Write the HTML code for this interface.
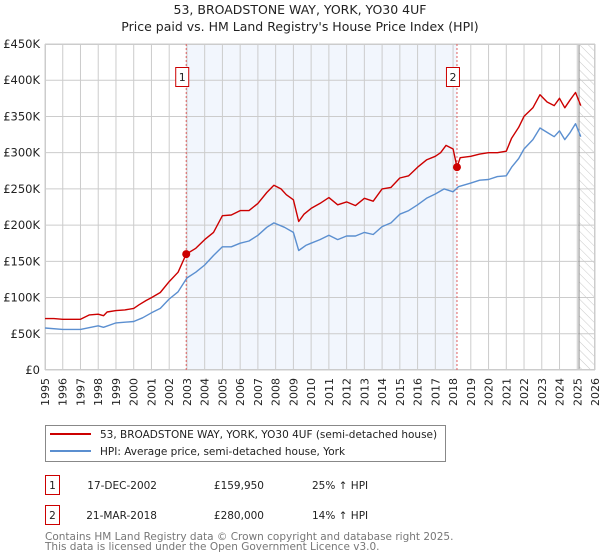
<!DOCTYPE html>
<html><head><meta charset="utf-8"><style>
body{margin:0;background:#fff;font-family:"DejaVu Sans","Liberation Sans",sans-serif;}
#wrap{position:relative;width:600px;height:560px;overflow:hidden;}
</style></head><body>
<div id="wrap">
<svg id="chart" width="600" height="560" xmlns="http://www.w3.org/2000/svg" font-family="DejaVu Sans, Liberation Sans, sans-serif">
<defs>
<pattern id="hatch" width="6" height="6" patternUnits="userSpaceOnUse" patternTransform="rotate(-45)">
<line x1="0" y1="0" x2="0" y2="6" stroke="#bbb" stroke-width="0.8"/>
</pattern>
<clipPath id="plotclip"><rect x="45" y="44" width="550" height="326"/></clipPath>
</defs>
<text x="300" y="14" text-anchor="middle" font-size="12.5" fill="#222">53, BROADSTONE WAY, YORK, YO30 4UF</text>
<text x="300" y="31" text-anchor="middle" font-size="12.5" fill="#222">Price paid vs. HM Land Registry's House Price Index (HPI)</text>
<g id="plot"></g>
<g>
<rect x="45.5" y="425.5" width="400" height="36" fill="#fff" stroke="#888"/>
<line x1="50" y1="434" x2="91" y2="434" stroke="#cc0000" stroke-width="2"/>
<text x="100" y="438" font-size="10.5" fill="#222">53, BROADSTONE WAY, YORK, YO30 4UF (semi-detached house)</text>
<line x1="50" y1="451" x2="91" y2="451" stroke="#5b8fd0" stroke-width="2"/>
<text x="100" y="455" font-size="10.5" fill="#222">HPI: Average price, semi-detached house, York</text>
</g>
<g font-size="10.5" fill="#222">
<rect x="45.5" y="475.5" width="14" height="19" fill="#fff" stroke="#cc0000"/>
<text x="52.5" y="489" text-anchor="middle">1</text>
<text x="157" y="489" text-anchor="end">17-DEC-2002</text>
<text x="264" y="489" text-anchor="end">£159,950</text>
<text x="312" y="489">25% ↑ HPI</text>
<rect x="45.5" y="505.5" width="14" height="19" fill="#fff" stroke="#cc0000"/>
<text x="52.5" y="519" text-anchor="middle">2</text>
<text x="157" y="519" text-anchor="end">21-MAR-2018</text>
<text x="264" y="519" text-anchor="end">£280,000</text>
<text x="312" y="519">14% ↑ HPI</text>
</g>
<text x="45" y="540" font-size="10.5" fill="#777">Contains HM Land Registry data © Crown copyright and database right 2025.</text>
<text x="45" y="550" font-size="10.5" fill="#777">This data is licensed under the Open Government Licence v3.0.</text>
</svg>
</div>
<script>
const yTicks=[0,50,100,150,200,250,300,350,400,450];
const yTickLabels=["£0","£50K","£100K","£150K","£200K","£250K","£300K","£350K","£400K","£450K"];
const xYears=[1995,1996,1997,1998,1999,2000,2001,2002,2003,2004,2005,2006,2007,2008,2009,2010,2011,2012,2013,2014,2015,2016,2017,2018,2019,2020,2021,2022,2023,2024,2025,2026];
const redT=[1995,1995.5,1996,1996.5,1997,1997.5,1998,1998.3,1998.5,1999,1999.5,2000,2000.3,2000.7,2001,2001.5,2002,2002.5,2002.96,2003.5,2004,2004.5,2005,2005.5,2006,2006.5,2007,2007.5,2007.9,2008.3,2008.6,2009,2009.3,2009.6,2010,2010.5,2011,2011.5,2012,2012.5,2013,2013.5,2014,2014.5,2015,2015.5,2016,2016.5,2017,2017.3,2017.6,2018.0,2018.22,2018.4,2019,2019.5,2020,2020.5,2021,2021.3,2021.7,2022,2022.5,2022.9,2023.3,2023.7,2024,2024.3,2024.6,2024.9,2025.2];
const redV=[71,71,70,70,70,76,77,75,80,82,83,85,90,96,100,107,122,135,160,168,180,190,213,214,220,220,230,245,255,250,242,235,205,215,223,230,238,228,232,227,237,233,250,252,265,268,280,290,295,300,310,305,280,293,295,298,300,300,302,320,335,350,362,380,370,365,375,362,373,383,365];
const blueT=[1995,1996,1997,1998,1998.3,1999,2000,2000.5,2001,2001.5,2002,2002.5,2003,2003.5,2004,2004.5,2005,2005.5,2006,2006.5,2007,2007.5,2007.9,2008.5,2009,2009.3,2009.7,2010,2010.5,2011,2011.5,2012,2012.5,2013,2013.5,2014,2014.5,2015,2015.5,2016,2016.5,2017,2017.5,2018,2018.3,2019,2019.5,2020,2020.5,2021,2021.3,2021.7,2022,2022.5,2022.9,2023.3,2023.7,2024,2024.3,2024.6,2024.9,2025.2];
const blueV=[58,56,56,61,59,65,67,72,79,85,98,108,127,135,145,158,170,170,175,178,186,197,203,197,190,165,172,175,180,186,180,185,185,190,187,198,203,215,220,228,237,243,250,246,253,258,262,263,267,268,280,292,305,318,334,328,322,330,318,328,340,322];
const saleT=[2002.96,2018.22];
const saleV=[159.95,280];
const saleLabels=["1","2"];

const L=45,R=595,T=44,B=370;
const x=t=>L+(t-1995)*(R-L)/31;
const y=v=>B-v*(B-T)/450;
const NS="http://www.w3.org/2000/svg";
const g=document.getElementById('plot');
function mk(tag,attrs,parent){const e=document.createElementNS(NS,tag);for(const k in attrs)e.setAttribute(k,attrs[k]);(parent||g).appendChild(e);return e;}

const bg=mk('rect',{x:L,y:T,width:R-L,height:B-T,fill:'#fff'});


const shade=mk('rect',{x:x(saleT[0]),y:T,width:x(saleT[1])-x(saleT[0]),height:B-T,fill:'#f2f6fd'});


const hatch=mk('rect',{x:x(2025.1),y:T,width:R-x(2025.1),height:B-T,fill:'url(#hatch)'});



xYears.forEach(yr=>{
  const l=mk('line',{x1:x(yr),x2:x(yr),y1:T,y2:B,stroke:'#ccc','stroke-width':1});
  
  
  const tx=mk('text',{x:0,y:0,'font-size':11,fill:'#222','text-anchor':'end',transform:`translate(${x(yr)+4},${B+8}) rotate(-90)`});
  tx.textContent=yr;
  
  
});
yTicks.forEach((v,i)=>{
  const l=mk('line',{x1:L,x2:R,y1:y(v),y2:y(v),stroke:'#ccc','stroke-width':1});
  
  
  const tx=mk('text',{x:L-5,y:y(v)+4,'font-size':11.5,fill:'#222','text-anchor':'end'});
  tx.textContent=yTickLabels[i];
  
  
});
const edge=mk('line',{x1:x(2025.1),x2:x(2025.1),y1:T,y2:B,stroke:'#888','stroke-width':1});


const frame=mk('rect',{x:L+0.5,y:T+0.5,width:R-L-1,height:B-T-1,fill:'none',stroke:'#ccc'});



saleT.forEach((t,i)=>{
  const l=mk('line',{x1:x(t),x2:x(t),y1:T,y2:B,stroke:'#e06060','stroke-width':1,'stroke-dasharray':'2,2'});
  
  
  const bx=mk('rect',{x:x(t)-10.5,y:67.5,width:13,height:19,fill:'#fff',stroke:'#cc0000'});
  
  
  const tx=mk('text',{x:x(t)-4,y:81,'font-size':11,fill:'#222','text-anchor':'middle'});
  tx.textContent=saleLabels[i];
  
  
});

function pts(ts,vs){return ts.map((t,i)=>x(t).toFixed(1)+','+y(vs[i]).toFixed(1)).join(' ');}
const blue=mk('polyline',{points:pts(blueT,blueV),fill:'none',stroke:'#5b8fd0','stroke-width':1.4,'stroke-linejoin':'round','clip-path':'url(#plotclip)'});


const red=mk('polyline',{points:pts(redT,redV),fill:'none',stroke:'#cc0000','stroke-width':1.4,'stroke-linejoin':'round','clip-path':'url(#plotclip)'});


saleT.forEach((t,i)=>{
  const c=mk('circle',{cx:x(t),cy:y(saleV[i]),r:4,fill:'#cc0000'});
  
  
});
</script>
</body></html>
